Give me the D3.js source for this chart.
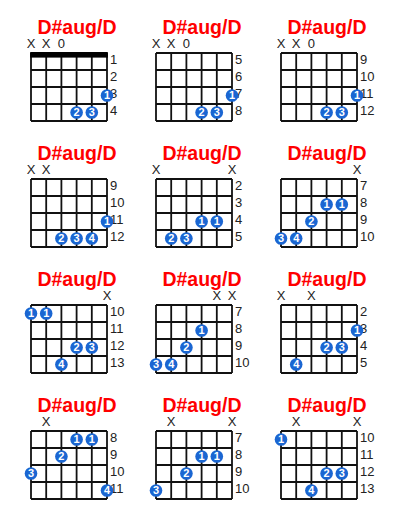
<!DOCTYPE html>
<html>
<head>
<meta charset="utf-8">
<script src="https://cdn.jsdelivr.net/npm/d3@7"></script>
<style>
  body { margin: 0; background: #fff; }
  svg { display: block; font-family: "Liberation Sans", Arial, sans-serif; }
</style>
</head>
<body>
<div id="chart"></div>
<script>
// chord name shown above every box
const chordName = 'D#aug/D';

// first fret number of each box, left to right, top to bottom
const startFrets = [1, 5, 9, 9, 2, 7, 10, 7, 2, 8, 7, 10];

// marks above strings 1..6 ('' = nothing)
const stringMarks = [
    ['X', 'X', '0', '', '', ''],
    ['X', 'X', '0', '', '', ''],
    ['X', 'X', '0', '', '', ''],
    ['X', 'X', '', '', '', ''],
    ['X', '', '', '', '', 'X'],
    ['', '', '', '', '', 'X'],
    ['', '', '', '', '', 'X'],
    ['', '', '', '', 'X', 'X'],
    ['X', '', 'X', '', '', ''],
    ['', 'X', '', '', '', ''],
    ['', 'X', '', '', '', 'X'],
    ['', 'X', '', '', '', 'X']
];

// [string, fret row, finger]
const fingerings = [
    [[6, 3, 1], [4, 4, 2], [5, 4, 3]],
    [[6, 3, 1], [4, 4, 2], [5, 4, 3]],
    [[6, 3, 1], [4, 4, 2], [5, 4, 3]],
    [[6, 3, 1], [3, 4, 2], [4, 4, 3], [5, 4, 4]],
    [[4, 3, 1], [5, 3, 1], [2, 4, 2], [3, 4, 3]],
    [[4, 2, 1], [5, 2, 1], [3, 3, 2], [1, 4, 3], [2, 4, 4]],
    [[1, 1, 1], [2, 1, 1], [4, 3, 2], [5, 3, 3], [3, 4, 4]],
    [[4, 2, 1], [3, 3, 2], [1, 4, 3], [2, 4, 4]],
    [[6, 2, 1], [4, 3, 2], [5, 3, 3], [2, 4, 4]],
    [[4, 1, 1], [5, 1, 1], [3, 2, 2], [1, 3, 3], [6, 4, 4]],
    [[4, 2, 1], [5, 2, 1], [3, 3, 2], [1, 4, 3]],
    [[1, 1, 1], [4, 3, 2], [5, 3, 3], [3, 4, 4]]
];

const width = 400, height = 520;
const gridW = 76, gridH = 68;
const blue = '#1a66d2';

const svg = d3.select('#chart').append('svg')
    .attr('width', width)
    .attr('height', height);

// where each box sits
const colX = d3.scaleLinear().domain([0, 2]).range([31, 281]);
const rowY = d3.scaleLinear().domain([0, 3]).range([53, 431]);

// inside a box
const x = d3.scaleLinear().domain([1, 6]).range([0, gridW]);

startFrets.forEach((start, i) => {
    const g = svg.append('g')
        .attr('transform', `translate(${colX(i % 3)},${rowY(Math.floor(i / 3))})`);

    const frets = d3.range(start, start + 4);
    const y = d3.scaleBand().domain(frets).range([0, gridH]);

    g.append('text')
        .attr('x', 46)
        .attr('y', -19.5)
        .attr('text-anchor', 'middle')
        .style('font-size', '19.5px')
        .style('font-weight', 'bold')
        .style('fill', '#ff0000')
        .text(chordName);

    g.selectAll('text.mark')
        .data(stringMarks[i].map((m, s) => ({ m: m, s: s + 1 })).filter(d => d.m))
        .join('text')
        .attr('class', 'mark')
        .attr('x', d => x(d.s))
        .attr('y', -5)
        .attr('text-anchor', 'middle')
        .style('font-size', '13px')
        .style('fill', '#222')
        .text(d => d.m);

    // frets
    g.selectAll('line.fret')
        .data(d3.range(0, 5))
        .join('line')
        .attr('class', 'fret')
        .attr('x1', 0).attr('x2', gridW)
        .attr('y1', d => d * y.step()).attr('y2', d => d * y.step())
        .attr('stroke', '#111')
        .attr('stroke-width', 1.8);

    // strings
    g.selectAll('line.string')
        .data(d3.range(1, 7))
        .join('line')
        .attr('class', 'string')
        .attr('x1', d => x(d)).attr('x2', d => x(d))
        .attr('y1', 0).attr('y2', gridH)
        .attr('stroke', '#111')
        .attr('stroke-width', 1.8);

    if (start === 1) {
        g.append('rect')
            .attr('x', -0.9).attr('y', -0.9)
            .attr('width', gridW + 1.8).attr('height', 5.5)
            .attr('fill', '#000');
    }

    // fret numbers
    const axis = g.append('g')
        .attr('transform', `translate(${gridW},0)`)
        .call(d3.axisRight(y).tickSize(0).tickPadding(3));
    axis.select('.domain').remove();
    axis.selectAll('text')
        .attr('dy', '0.22em')
        .style('font-size', '13px')
        .style('font-family', '"Liberation Sans", Arial, sans-serif')
        .style('fill', '#222');

    const dots = g.selectAll('g.dot')
        .data(fingerings[i])
        .join('g')
        .attr('class', 'dot')
        .attr('transform', d => `translate(${x(d[0])},${y(start + d[1] - 1) + y.bandwidth() / 2})`);
    dots.append('circle')
        .attr('r', 6.3)
        .attr('fill', blue);
    dots.append('text')
        .attr('text-anchor', 'middle')
        .attr('dy', '0.36em')
        .style('font-size', '11px')
        .style('font-weight', 'bold')
        .style('fill', '#fff')
        .text(d => d[2]);
});
</script>
</body>
</html>
